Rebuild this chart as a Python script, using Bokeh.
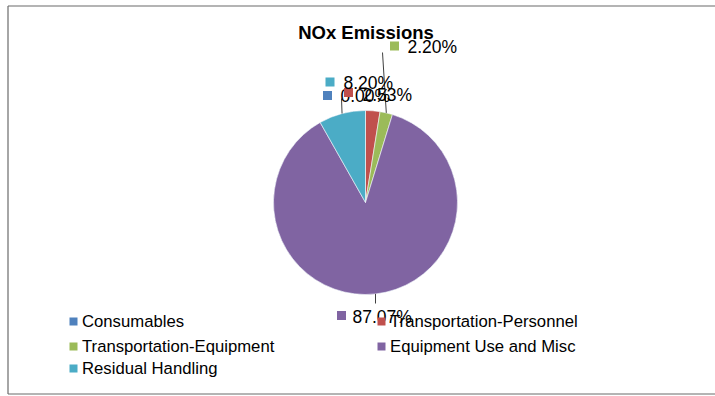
import numpy as np
from bokeh.plotting import figure
from bokeh.models import Range1d, ColumnDataSource
from bokeh.core.properties import value
from bokeh.embed import file_html
from bokeh.resources import INLINE

# ---- data ----
title = "NOx Emissions"
categories = ["Consumables", "Transportation-Personnel", "Transportation-Equipment",
              "Equipment Use and Misc", "Residual Handling"]
shares = [0.00, 2.53, 2.20, 87.07, 8.20]
colors = ["#4F81BD", "#C0504D", "#9BBB59", "#8064A2", "#4BACC6"]

# ---- layout (reference pixel coordinates, y measured from top) ----
W, H = 715, 396
def Y(py):
    return H - py

cx, cy, R = 365, 202, 92
label_sq = [(327, 95), (348, 92), (394, 45.5), (341, 315), (329.5, 81.5)]
label_tx = [(340, 95), (362, 94.5), (407, 46), (352, 316), (343, 82.5)]
leader_end = [None, None, (382, 52), (375, 303), (341, 98)]

FONT = "Liberation Sans"

p = figure(width=W, height=H, x_range=Range1d(0, W), y_range=Range1d(0, H),
           x_axis_type=None, y_axis_type=None, toolbar_location=None,
           output_backend="svg", min_border=0, outline_line_color=None,
           background_fill_color="white", border_fill_color="white")
p.grid.visible = False

# border (left, top, bottom; right edge lies outside the view in the reference)
p.multi_line(xs=[[7.5, 7.5], [7.5, 715], [7.5, 715]],
             ys=[[Y(5.5), Y(393.5)], [Y(5.5), Y(5.5)], [Y(393.5), Y(393.5)]],
             line_color="#6b6b6b", line_width=1.2)

# wedges: start at 12 o'clock, clockwise
frac = np.array(shares) / sum(shares)
cum = np.concatenate([[0], np.cumsum(frac)])
starts = np.pi / 2 - cum[:-1] * 2 * np.pi
ends = np.pi / 2 - cum[1:] * 2 * np.pi
src = ColumnDataSource(dict(start=starts, end=ends, color=colors, cat=categories))
p.wedge(x=cx, y=Y(cy), radius=R, start_angle="start", end_angle="end", direction="clock",
        fill_color="color", line_color="white", line_width=0.6, source=src)

# leader lines from slice mid-angle on the rim
mids = (cum[:-1] + cum[1:]) / 2 * 2 * np.pi
for i, le in enumerate(leader_end):
    if le is None:
        continue
    ex = cx + R * np.sin(mids[i])
    ey = cy - R * np.cos(mids[i])
    p.line(x=[ex, le[0]], y=[Y(ey), Y(le[1])], line_color="#404040", line_width=1)

# data labels (key square + text, drawn in series order)
for i in range(len(categories)):
    sx, sy = label_sq[i]
    p.rect(x=sx, y=Y(sy), width=9, height=9, fill_color=colors[i], line_color=None)
    tx, ty = label_tx[i]
    p.text(x=[tx], y=[Y(ty)], text=[f"{shares[i]:.2f}%"], text_font=value(FONT),
           text_font_size="17.5px", text_color="#000000",
           text_align="left", text_baseline="middle")

# title
p.text(x=[365.5], y=[Y(32)], text=[title], text_font=value(FONT), text_font_size="18.5px",
       text_font_style="bold", text_color="#000000", text_align="center", text_baseline="middle")

# legend (two columns)
leg_cols = [73, 381]
leg_rows = [321, 346, 368]
for i, cat in enumerate(categories):
    col = i % 2
    row = i // 2
    kx = leg_cols[col]
    ky = leg_rows[row]
    p.rect(x=kx, y=Y(ky), width=8, height=8, fill_color=colors[i], line_color=None)
    p.text(x=[kx + 8.5], y=[Y(ky)], text=[cat], text_font=value(FONT), text_font_size="16.7px",
           text_color="#000000", text_align="left", text_baseline="middle")

open("out.html", "w").write(file_html(p, INLINE))
